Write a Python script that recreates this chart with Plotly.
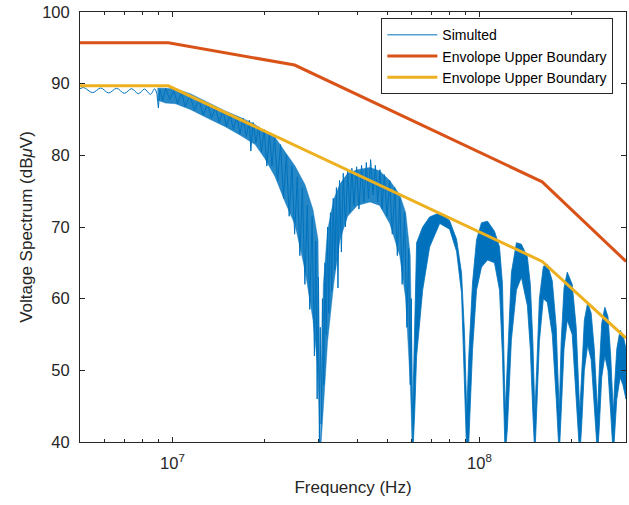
import numpy as np
import plotly.graph_objects as go

# ---------------- data (frequencies in MHz, levels in dBuV) ----------------
# low-frequency ripple of the simulated spectrum
freq_ripple_mhz = [5.0, 5.14, 5.50, 5.84, 6.20, 6.58, 6.98, 7.36, 7.75, 8.11, 8.48, 8.75, 8.9]
db_ripple = [89.3, 89.45, 88.75, 89.4, 88.7, 89.35, 88.65, 89.3, 88.6, 89.25, 88.5, 89.3, 88.6]

# noisy part of the simulated spectrum (spikes)
freq_noise_mhz = [8.9, 9.0, 9.1, 9.3, 9.5, 9.8, 10.1, 10.4, 10.7, 11.0, 11.4, 11.8, 12.2, 12.6,
                  13.0, 13.4, 13.8, 14.2, 14.6, 15.0, 15.4, 15.8, 16.2, 16.6, 17.0, 17.4, 17.8,
                  18.0, 18.3, 18.7, 19.1, 19.5, 19.9, 20.3, 20.7, 21.1, 21.5, 22.0, 22.5, 23.0,
                  23.5, 24.0, 24.5, 25.0, 25.5, 26.0, 26.5, 27.0, 27.5, 28.0, 28.5, 29.0, 29.3,
                  29.6, 29.9, 30.1, 30.3, 30.5, 30.8, 31.1, 31.4, 31.7, 32.0, 32.3, 32.7, 33.0,
                  33.4, 33.8, 34.2, 34.6, 35.0, 35.5, 36.0, 36.6, 37.2, 37.8, 38.4, 39.0, 39.8,
                  40.5, 41.3, 42.0, 42.8, 43.5, 44.2, 45.0, 45.8, 46.6, 47.4, 48.2, 49.0, 50.0,
                  51.0, 52.0, 53.0, 54.0, 55.0, 56.0, 57.0, 58.0, 58.8, 59.5, 60.0, 60.4]
db_noise = [88.6, 86.6, 89.2, 87.6, 89.4, 87.8, 89.0, 87.2, 88.8, 86.8, 88.3, 86.3, 87.8, 85.6,
            87.2, 85.2, 86.7, 84.6, 86.3, 84.0, 85.8, 83.6, 85.4, 83.0, 85.2, 82.6, 84.9,
            80.6, 84.6, 81.8, 84.0, 80.5, 83.6, 78.5, 83.0, 78.5, 82.4, 76.5, 81.5, 74.0,
            80.0, 71.5, 78.5, 69.0, 77.0, 66.0, 75.5, 62.0, 73.0, 58.5, 71.5, 52.0, 68.0,
            46.0, 63.0, 40.0, 56.0, 42.5, 60.0, 48.0, 65.0, 55.0, 70.0, 58.0, 72.0, 61.0,
            74.0, 64.0, 75.5, 61.5, 76.5, 66.5, 77.5, 70.0, 78.0, 72.0, 78.2, 73.0, 78.4,
            72.5, 78.6, 73.5, 79.0, 74.0, 79.4, 74.5, 78.6, 73.5, 78.0, 72.5, 77.3, 71.5,
            76.5, 69.0, 75.5, 66.0, 74.0, 62.0, 72.0, 56.0, 67.0, 48.0, 60.0, 40.0]

# band (upper / lower extent) of the dense simulated spectrum
freq_band_mhz = [8.94, 9.49, 10.23, 11.44, 12.99, 14.86, 16.63, 18.60, 20.04, 21.6, 23.27, 25.08,
                 27.03, 28.70, 29.8, 30.3, 31.0, 32.0, 33.5, 35.1, 37.2, 40.0, 44.0, 47.3, 51.0,
                 55.0, 57.5, 59.5, 60.6, 61.5, 62.4, 65.3, 68.8, 74.2, 79.9, 84.2, 87.4, 89.4,
                 90.9, 92.3, 94.9, 97.8, 101.5, 106.2, 111.9, 116.2, 118.8, 121.2, 123.3, 127.0,
                 131.9, 136.9, 143.2, 146.4, 149.2, 151.5, 153.5, 156.7, 161.4, 166.3, 172.6,
                 177.8, 181.8, 184.5, 188.5, 193.1, 200.4, 206.5, 212.1, 215.0, 219.5, 225.0,
                 231.0, 236.5, 242.4, 245.5, 250.0, 256.0, 262.0, 267.5, 272.7, 275.5, 280.0,
                 287.0, 293.0, 300.0]
db_band_hi = [89.4, 89.4, 89.3, 88.6, 87.4, 86.2, 85.3, 84.3, 83.2, 82.5, 80.5, 78.5,
              75.9, 72.4, 68.2, 38.0, 62.0, 69.5, 73.8, 76.0, 77.5, 78.0, 78.3, 77.8, 76.5,
              74.5, 72.0, 66.0, 44.0, 58.0, 67.8, 70.0, 71.4, 72.0, 70.9, 68.3, 63.6, 55.0,
              44.0, 52.0, 62.2, 68.2, 70.6, 70.8, 69.4, 67.2, 62.0, 44.0, 52.0, 63.6,
              67.8, 67.6, 65.8, 62.0, 54.0, 44.0, 50.0, 60.0, 64.5, 64.8, 62.5,
              56.0, 44.0, 54.0, 61.5, 63.7, 62.0, 56.0, 44.0, 50.0, 57.0, 59.4,
              58.0, 53.0, 44.0, 50.0, 56.5, 58.8, 57.5, 52.0, 44.0, 48.0, 53.0,
              55.6, 55.0, 53.0]
db_band_lo = [87.7, 87.3, 87.2, 86.4, 85.2, 84.0, 82.8, 81.5, 79.5, 77.0, 73.5, 70.3,
              64.0, 57.0, 50.0, 38.0, 44.0, 54.0, 62.0, 68.2, 71.5, 73.0, 73.5, 73.0, 70.5,
              66.0, 60.0, 48.0, 38.0, 44.0, 52.0, 61.2, 67.2, 70.5, 69.7, 66.6, 60.8, 48.0,
              38.0, 40.0, 52.8, 61.2, 64.4, 65.4, 65.0, 61.2, 52.0, 38.0, 42.0, 54.2,
              61.2, 63.0, 59.0, 53.0, 44.0, 38.0, 44.0, 54.0, 60.0, 59.5, 55.0,
              46.0, 38.0, 44.0, 53.0, 57.0, 55.0, 46.0, 38.0, 42.0, 50.0, 53.5,
              51.5, 45.0, 38.0, 42.0, 49.0, 52.0, 50.0, 44.0, 38.0, 42.0, 46.0,
              49.0, 48.0, 46.0]

# envelope boundaries
freq_red_mhz = [5.0, 9.7, 25.0, 160.0, 300.0]
db_red = [95.7, 95.7, 92.6, 76.3, 65.2]
freq_yellow_mhz = [5.0, 9.7, 160.0, 300.0]
db_yellow = [89.7, 89.7, 65.2, 54.5]

y_ticks = [40, 50, 60, 70, 80, 90, 100]
x_major_ticks = [1e7, 1e8]
x_major_labels = ["10<sup>7</sup>", "10<sup>8</sup>"]
x_minor_ticks = [6e6, 7e6, 8e6, 9e6, 2e7, 3e7, 4e7, 5e7, 6e7, 7e7, 8e7, 9e7, 2e8, 3e8]

# ---------------- figure ----------------
MHZ = 1e6
BLUE = "#0072BD"
RED = "#D95319"
YELLOW = "#EDB120"
AX = "#262626"

fb = np.array(freq_band_mhz) * MHZ
hi = np.array(db_band_hi)
lo = np.array(db_band_lo)
split = freq_band_mhz.index(60.6)


def band_polygon(f, h, l):
    return np.concatenate([f, f[::-1]]), np.concatenate([h, l[::-1]])


fig = go.Figure()
# noisy part of the band (slightly lighter, as the dense trace is not fully solid there)
bx, by = band_polygon(fb[:split + 1], hi[:split + 1], lo[:split + 1])
fig.add_trace(go.Scatter(x=bx, y=by, mode="lines", fill="toself",
                         fillcolor="rgba(0,114,189,0.85)", line=dict(color="rgba(0,114,189,0.7)", width=0.6),
                         showlegend=False, hoverinfo="skip"))
# lobes of the band
bx, by = band_polygon(fb[split:], hi[split:], lo[split:])
fig.add_trace(go.Scatter(x=bx, y=by, mode="lines", fill="toself",
                         fillcolor=BLUE, line=dict(color=BLUE, width=0.8),
                         showlegend=False, hoverinfo="skip"))
fig.add_trace(go.Scatter(x=np.array(freq_ripple_mhz) * MHZ, y=db_ripple, mode="lines",
                         line=dict(color=BLUE, width=1, shape="spline"), showlegend=False))
fig.add_trace(go.Scatter(x=np.array(freq_noise_mhz) * MHZ, y=db_noise, mode="lines",
                         line=dict(color=BLUE, width=1), name="Simulted"))
fig.add_trace(go.Scatter(x=np.array(freq_red_mhz) * MHZ, y=db_red, mode="lines",
                         line=dict(color=RED, width=3), name="Envolope Upper Boundary"))
fig.add_trace(go.Scatter(x=np.array(freq_yellow_mhz) * MHZ, y=db_yellow, mode="lines",
                         line=dict(color=YELLOW, width=3), name="Envolope Upper Boundary"))

fig.update_layout(
    width=629, height=505,
    margin=dict(l=80, r=3, t=12, b=63, autoexpand=False),
    plot_bgcolor="white", paper_bgcolor="white",
    font=dict(family="Liberation Sans, Arial, sans-serif", color=AX, size=16),
    legend=dict(x=0.9768, y=0.9855, xanchor="right", yanchor="top",
                bordercolor=AX, borderwidth=1, bgcolor="white", itemwidth=50,
                font=dict(size=14, color="#000000"), tracegroupgap=0),
)
fig.update_xaxes(
    type="log", range=[np.log10(5e6), np.log10(3e8)],
    tickvals=x_major_ticks, ticktext=x_major_labels,
    ticks="inside", ticklen=5, tickcolor=AX, tickwidth=1,
    showline=True, linecolor=AX, linewidth=1, mirror="ticks",
    showgrid=False, zeroline=False, automargin=False,
    minor=dict(tickvals=x_minor_ticks, ticks="inside", ticklen=3, tickcolor=AX, showgrid=False),
    tickfont=dict(size=16.5), ticklabelstandoff=6,
    title=dict(text="Frequency (Hz)", font=dict(size=17), standoff=10),
)
fig.update_yaxes(
    range=[40, 100], tickvals=y_ticks,
    ticks="inside", ticklen=5, tickcolor=AX, tickwidth=1,
    showline=True, linecolor=AX, linewidth=1, mirror="ticks",
    showgrid=False, zeroline=False, automargin=False,
    tickfont=dict(size=16.5), ticklabelstandoff=6,
    title=dict(text="Voltage Spectrum (dB<i>μ</i>V)", font=dict(size=17), standoff=5),
)

fig.write_html("out.html", config={"displayModeBar": False},
               post_script="document.body.style.margin='0';")
